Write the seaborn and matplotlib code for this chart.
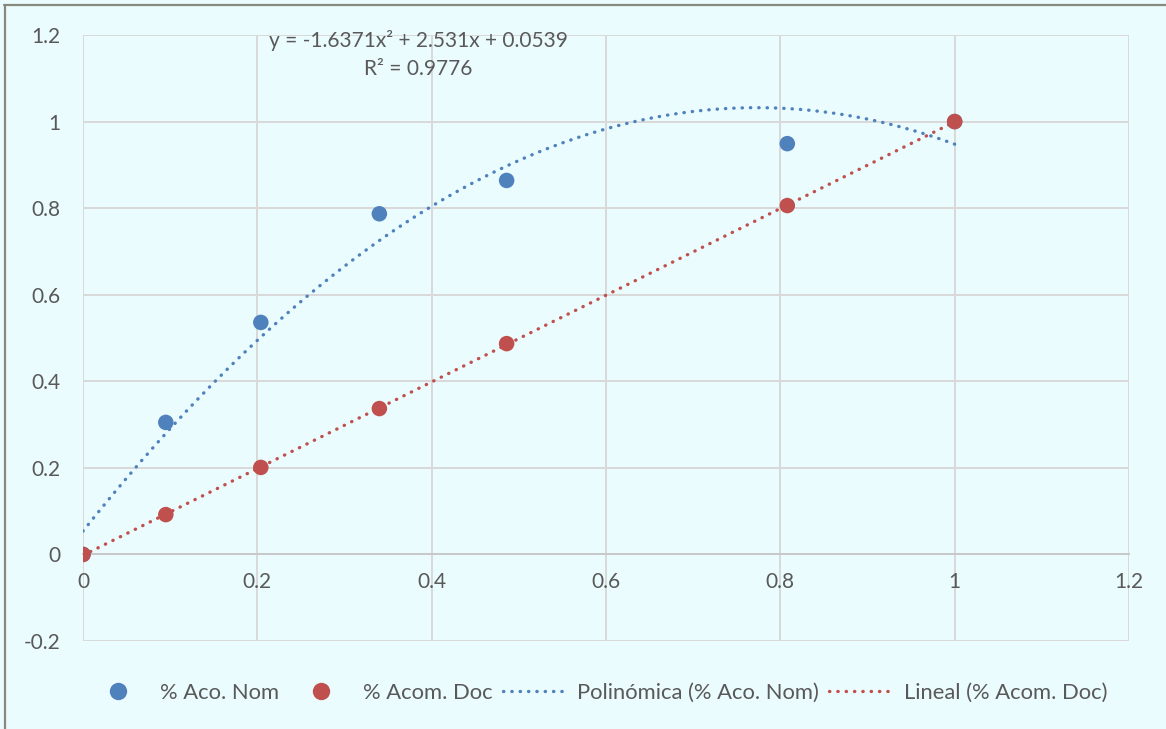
import numpy as np
import pandas as pd
import matplotlib
matplotlib.use("Agg")
import matplotlib.pyplot as plt
import seaborn as sns
from matplotlib.lines import Line2D
from matplotlib.ticker import FuncFormatter

# ---------------- data ----------------
x_vals = [0.0, 0.095, 0.204, 0.340, 0.486, 0.808, 1.0]
aco_nom = [0.0, 0.305, 0.536, 0.787, 0.864, 0.949, 1.0]
acom_doc = [0.0, 0.092, 0.201, 0.337, 0.487, 0.806, 1.0]
poly_coef = [-1.6371, 2.531, 0.0539]
r_squared = 0.9776
x_ticks = [0, 0.2, 0.4, 0.6, 0.8, 1.0, 1.2]
y_ticks = [-0.2, 0, 0.2, 0.4, 0.6, 0.8, 1.0, 1.2]
series_names = ["% Aco. Nom", "% Acom. Doc",
                "Polinómica (% Aco. Nom)", "Lineal (% Acom. Doc)"]
eq_text = "y = -1.6371x² + 2.531x + 0.0539"
r2_text = "R² = 0.9776"

# ---------------- style ----------------
BLUE = "#4F81BD"
RED = "#C0504D"
BG = "#EBFCFE"
GRID = "#D9D9D9"
TXT = "#595959"
FS = 15

sns.set_style("white")
plt.rcParams["font.family"] = ["Lato", "DejaVu Sans"]

fig = plt.figure(figsize=(11.66, 7.29), dpi=100, facecolor=BG)
ax = fig.add_axes([83 / 1166, 1 - 641 / 729, (1129 - 83) / 1166, (641 - 35) / 729])
ax.set_facecolor(BG)

df = pd.DataFrame({"x": x_vals, "nom": aco_nom, "doc": acom_doc})

# trend lines
xs = np.linspace(0, 1, 300)
poly_y = np.polyval(poly_coef, xs)
lin_coef = np.polyfit(df["x"], df["doc"], 1)
lin_y = np.polyval(lin_coef, xs)
dot_ls = (0, (0.1, 2.4))
LW = 2.4
sns.lineplot(x=xs, y=poly_y, ax=ax, color=BLUE, linestyle=dot_ls, lw=LW,
             dash_capstyle="round", zorder=2)
sns.lineplot(x=xs, y=lin_y, ax=ax, color=RED, linestyle=dot_ls, lw=LW,
             dash_capstyle="round", zorder=2)

# points
sns.scatterplot(data=df, x="x", y="nom", ax=ax, color=BLUE, s=125,
                edgecolor="none", zorder=3)
sns.scatterplot(data=df, x="x", y="doc", ax=ax, color=RED, s=125,
                edgecolor="none", zorder=4)

ax.set_xlim(0, 1.2)
ax.set_ylim(-0.2, 1.2)
ax.set_xticks(x_ticks)
ax.set_yticks(y_ticks)
fmt = FuncFormatter(lambda v, p: f"{v:g}")
ax.xaxis.set_major_formatter(fmt)
ax.yaxis.set_major_formatter(fmt)
ax.set_xlabel("")
ax.set_ylabel("")
ax.grid(True, color=GRID, lw=1.4)
ax.set_axisbelow(True)
for s in ["top", "right", "left"]:
    ax.spines[s].set_visible(False)
ax.spines["bottom"].set_position(("data", 0))
ax.spines["bottom"].set_color("#C8C8C8")
ax.spines["bottom"].set_linewidth(1.4)
ax.tick_params(axis="x", length=0, pad=13, labelsize=FS, labelcolor=TXT)
ax.tick_params(axis="y", length=0, pad=16, labelsize=FS, labelcolor=TXT)

ax.text(0.385, 1.187, eq_text, ha="center", va="center", fontsize=FS, color=TXT)
ax.text(0.385, 1.122, r2_text, ha="center", va="center", fontsize=FS, color=TXT)

handles = [
    Line2D([], [], marker="o", ls="none", color=BLUE, markersize=11.5),
    Line2D([], [], marker="o", ls="none", color=RED, markersize=11.5),
    Line2D([], [], color=BLUE, ls=dot_ls, lw=LW, dash_capstyle="round"),
    Line2D([], [], color=RED, ls=dot_ls, lw=LW, dash_capstyle="round"),
]
leg = ax.legend(handles, series_names, loc="center", bbox_to_anchor=(596 / 1166, 1 - 693 / 729),
                bbox_transform=fig.transFigure, ncol=4, frameon=False, fontsize=15.8,
                handlelength=3.0, handletextpad=0.4, columnspacing=0.45)
for t in leg.get_texts():
    t.set_color(TXT)

# figure border (top and left)
fig.add_artist(Line2D([4 / 1166, 1], [1 - 5 / 729] * 2, transform=fig.transFigure,
                      color="#858A7C", lw=1.6))
fig.add_artist(Line2D([5 / 1166] * 2, [0, 1 - 5 / 729], transform=fig.transFigure,
                      color="#858A7C", lw=1.6))

fig.savefig("out.png", dpi=100, facecolor=BG)
